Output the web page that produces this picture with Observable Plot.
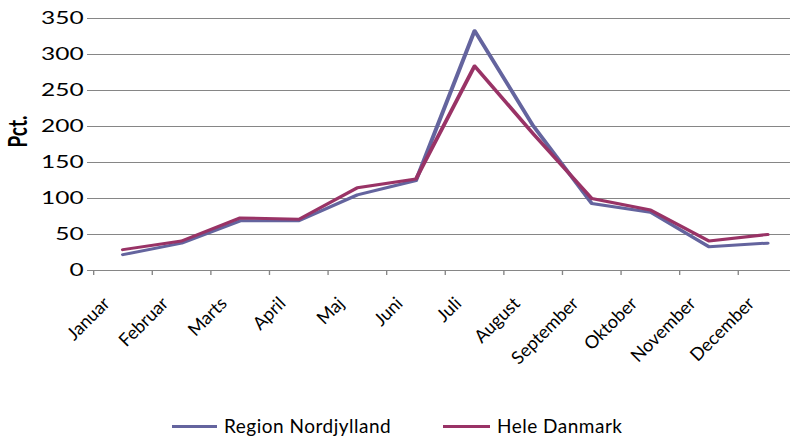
<!DOCTYPE html>
<html>
<head>
<meta charset="utf-8">
<script src="https://cdn.jsdelivr.net/npm/d3@7"></script>
<script src="https://cdn.jsdelivr.net/npm/@observablehq/plot@0.6"></script>
<style>
  html, body { margin: 0; padding: 0; background: #fff; overflow: hidden; }
  #wrap { position: relative; width: 790px; height: 437px; overflow: hidden; font-family: Lato, "Open Sans", sans-serif; }
  #chart { position: absolute; left: 0; top: 0; transform: scaleX(1.36); transform-origin: 0 0; }
  #labels { position: absolute; left: 0; top: 0; }
  #chart svg, #labels svg { overflow: visible; }
  #legend { position: absolute; left: 0; top: 408px; width: 790px; height: 29px; font-size: 19px; color: #000; }
  .li { position: absolute; top: 3px; height: 29px; line-height: 29px; white-space: nowrap; letter-spacing: 0.5px; }
  .sw { position: absolute; top: 17px; height: 3px; }
</style>
</head>
<body>
<div id="wrap">
  <div id="chart"></div>
  <div id="labels"></div>
  <div id="legend"></div>
</div>
<script>
const months = ["Januar", "Februar", "Marts", "April", "Maj", "Juni", "Juli", "August", "September", "Oktober", "November", "December"];
const seriesNames = ["Region Nordjylland", "Hele Danmark"];
const nordjylland = [22, 38, 69, 69, 105, 125, 333, 201, 93, 81, 33, 38];
const heleDanmark = [29, 41, 73, 71, 115, 127, 284, 190, 100, 84, 41, 50];
const yTicks = [0, 50, 100, 150, 200, 250, 300, 350];
const yLabel = "Pct.";
const colors = ["#64649e", "#993366"];

const rows = [];
[nordjylland, heleDanmark].forEach((vals, s) => {
  vals.forEach((v, i) => rows.push({series: seriesNames[s], month: months[i], pos: i + 0.5, value: v}));
});
const monthRows = months.map((m, i) => ({month: m, pos: i + 0.5, value: 0}));

const STRETCH = 1.36;
const W = 790, H = 408, ML = 93, MT = 18, MB = 138;
const xRange = [ML, ML + 58.6 * months.length];

// Main chart, drawn narrow and stretched horizontally like the original
const plot = Plot.plot({
  width: W / STRETCH,
  height: H,
  marginLeft: ML / STRETCH,
  marginRight: 0,
  marginTop: MT,
  marginBottom: MB,
  style: {fontFamily: "Lato, 'Open Sans', sans-serif", fontSize: "18px", color: "#000", background: "transparent"},
  x: {domain: [0, months.length], range: xRange.map(v => v / STRETCH)},
  y: {domain: [0, 350]},
  color: {domain: seriesNames, range: colors},
  marks: [
    Plot.ruleY(yTicks, {stroke: "#868686", strokeWidth: 1}),
    Plot.axisY({ticks: yTicks, tickSize: 4.4, tickPadding: 3, stroke: "#868686", strokeOpacity: 1, fill: "#000", label: null}),
    Plot.text([yLabel], {frameAnchor: "left", text: d => d, rotate: -90, dx: -55, dy: 3, fontWeight: "bold", fontSize: 19, fill: "#000"}),
    Plot.axisX({ticks: d3.range(0, months.length + 1), tickSize: 5, tickFormat: () => "", stroke: "#868686", strokeOpacity: 1, label: null}),
    Plot.line(rows.filter(d => d.series === seriesNames[0]), {x: "pos", y: "value", stroke: "series", strokeWidth: 3}),
    Plot.line(rows.filter(d => d.series === seriesNames[1]), {x: "pos", y: "value", stroke: "series", strokeWidth: 3})
  ]
});
document.getElementById("chart").appendChild(plot);

// Month labels, same scales but unstretched so they stay at 45 degrees
const labels = Plot.plot({
  width: W,
  height: H,
  marginLeft: ML,
  marginRight: 0,
  marginTop: MT,
  marginBottom: MB,
  style: {fontFamily: "Lato, 'Open Sans', sans-serif", fontSize: "18px", color: "#000", background: "transparent"},
  x: {domain: [0, months.length], range: xRange, axis: null},
  y: {domain: [0, 350], axis: null},
  marks: [
    Plot.text(monthRows, {x: "pos", y: "value", text: "month", rotate: -45, textAnchor: "end", dx: -16, dy: 30, fontSize: 18, fill: "#000"})
  ]
});
document.getElementById("labels").appendChild(labels);

const legend = document.getElementById("legend");
const legendX = [172, 443];
const legendTextX = [224, 497];
seriesNames.forEach((name, i) => {
  const sw = document.createElement("div");
  sw.className = "sw";
  sw.style.left = legendX[i] + "px";
  sw.style.width = (legendTextX[i] - legendX[i] - 7) + "px";
  sw.style.background = colors[i];
  legend.appendChild(sw);
  const t = document.createElement("div");
  t.className = "li";
  t.style.left = legendTextX[i] + "px";
  t.textContent = name;
  legend.appendChild(t);
});
</script>
</body>
</html>
